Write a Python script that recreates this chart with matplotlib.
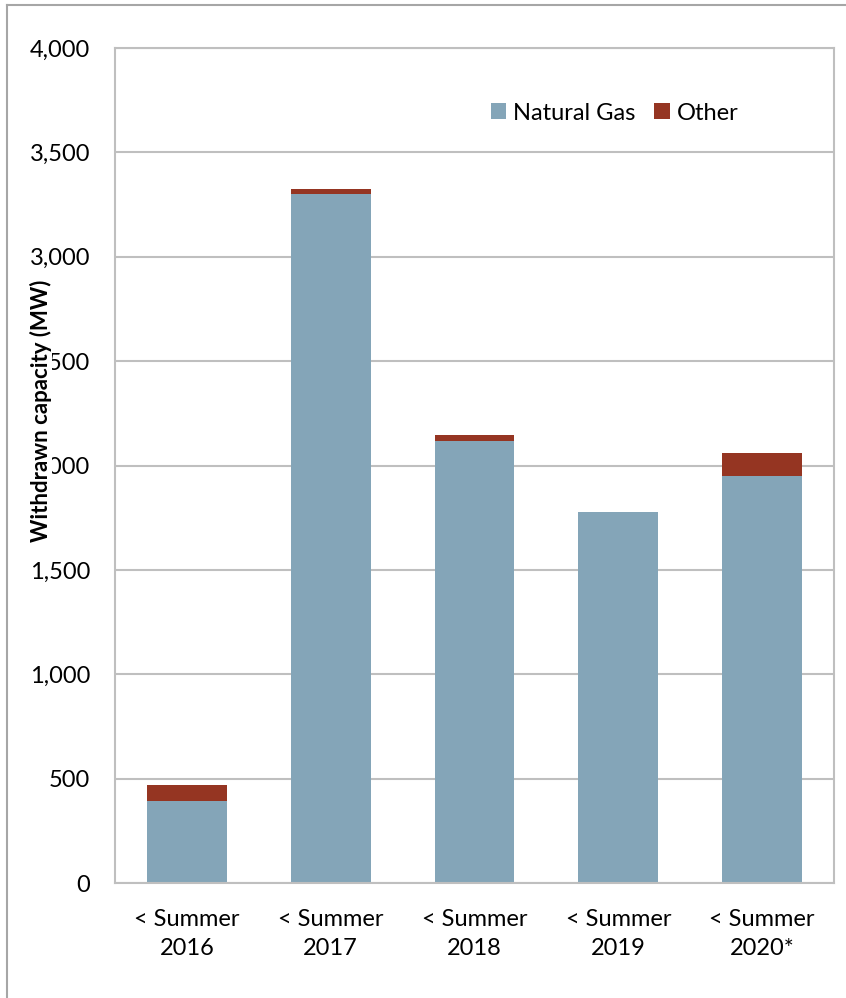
import numpy as np
import matplotlib.pyplot as plt
from matplotlib.lines import Line2D

# data (MW)
categories = ["< Summer\n2016", "< Summer\n2017", "< Summer\n2018", "< Summer\n2019", "< Summer\n2020*"]
natural_gas = [393, 3300, 2119, 1778, 1952]
other = [77, 25, 27, 0, 108]
y_ticks = [0, 500, 1000, 1500, 2000, 2500, 3000, 3500, 4000]

gas_color = "#84A5B8"
other_color = "#953522"
grid_color = "#BFBFBF"

plt.rcParams["font.family"] = ["Lato", "DejaVu Sans"]

fig = plt.figure(figsize=(8.46, 9.98), dpi=100)
ax = fig.add_axes([115 / 846, 1 - 883 / 998, 719 / 846, 835 / 998])

x = np.arange(len(categories))
width = 0.556
ax.bar(x, natural_gas, width, color=gas_color, label="Natural Gas", zorder=2)
ax.bar(x, other, width, bottom=natural_gas, color=other_color, label="Other", zorder=2)

ax.set_xlim(-0.5, len(categories) - 0.5)
ax.set_ylim(0, 4000)
ax.set_yticks(y_ticks)
ax.set_yticklabels([f"{v:,}" for v in y_ticks])
ax.set_xticks(x)
ax.set_xticklabels(categories, linespacing=1.45)
ax.tick_params(axis="y", length=0, pad=18, labelsize=17)
ax.tick_params(axis="x", length=0, pad=19, labelsize=17)

ax.grid(axis="y", color=grid_color, linewidth=1.5, zorder=0)
for s in ax.spines.values():
    s.set_color(grid_color)
    s.set_linewidth(1.5)

# label sits on top of the tick labels, as in the original
ax.set_ylabel("Withdrawn capacity (MW)", fontsize=16, fontweight="bold",
              bbox=dict(facecolor="white", edgecolor="none", pad=0))
ax.yaxis.set_label_coords(-0.088, 0.565)

ax.legend(loc="center", bbox_to_anchor=(0.695, 0.922), ncol=2, frameon=False,
          fontsize=17, handlelength=0.65, handleheight=0.65, handletextpad=0.3,
          columnspacing=0.8)

# outer chart border (left and top only, as in the original crop)
fig.add_artist(Line2D([7 / 846, 7 / 846], [0, 1 - 5 / 998], color="#A6A6A6", linewidth=1.5,
                      transform=fig.transFigure))
fig.add_artist(Line2D([7 / 846, 1], [1 - 5 / 998, 1 - 5 / 998], color="#A6A6A6", linewidth=1.5,
                      transform=fig.transFigure))

fig.savefig("out.png", dpi=100)
